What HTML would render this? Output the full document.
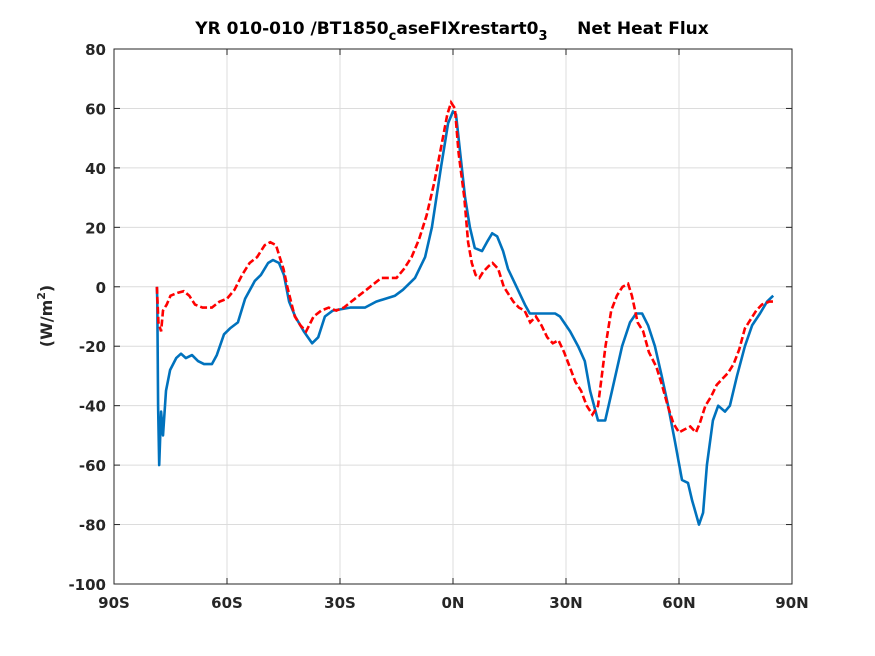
<!DOCTYPE html>
<html><head><meta charset="utf-8"><style>
body{margin:0;background:#fff}
svg{display:block;font-family:"DejaVu Sans","Liberation Sans",sans-serif}
</style></head><body>
<svg id="chart" width="875" height="656" viewBox="0 0 875 656">
<rect width="875" height="656" fill="#fff"/>
<rect x="114" y="49" width="678" height="535" fill="#fff"/>
<g id="grid"></g>
<g id="series"></g>
<rect x="114" y="49" width="678" height="535" fill="none" stroke="#262626" stroke-width="1"/>
<g id="ticks"></g>
<text x="452" y="34" text-anchor="middle" font-size="17" font-weight="bold" fill="#000">YR 010-010 /BT1850<tspan font-size="13" dy="6">c</tspan><tspan dy="-6">aseFIXrestart0</tspan><tspan font-size="13" dy="6">3</tspan><tspan dy="-6" xml:space="preserve">     Net Heat Flux</tspan></text>
<text transform="translate(52,316) rotate(-90)" text-anchor="middle" font-size="16" font-weight="bold" fill="#262626">(W/m<tspan font-size="11" dy="-7">2</tspan><tspan dy="7">)</tspan></text>
</svg>
<script>
const xTicks=[-90,-60,-30,0,30,60,90];
const xTickLabels=["90S","60S","30S","0N","30N","60N","90N"];
const yTicks=[-100,-80,-60,-40,-20,0,20,40,60,80];
const blueLat=[-78.6,-78.5,-78.3,-78.0,-77.5,-77.0,-76.2,-75.1,-73.5,-72.2,-70.9,-69.3,-67.7,-66.1,-64,-62.7,-60.8,-59.2,-57.1,-55.2,-52.6,-51,-49.1,-47.8,-46.2,-44.9,-43.5,-41.9,-39.6,-37.4,-35.8,-34,-31.9,-27.3,-23.4,-20.4,-15.4,-13.3,-10.1,-7.4,-5.6,-3.2,-1.3,0,0.8,1.9,3.2,4.5,5.8,7.7,9,10.4,11.7,13.3,14.6,16.5,19.1,20.4,24.4,27.1,28.4,31.1,33.2,35,36.4,38.5,40.4,42.2,44.9,47,48.6,50.2,51.8,53.6,55.4,57.1,58.9,60.8,62.4,63.5,64.2,65.3,66.4,67.4,69,70.4,72.2,73.5,75.4,77.5,79.4,81.5,83.4,85];
const blueVal=[0,-5,-40,-60,-42,-50,-35,-28,-24,-22.5,-24,-23,-25,-26,-26,-23,-16,-14,-12,-4,2,4,8,9,8,4,-5,-10,-15,-19,-17,-10,-8,-7,-7,-5,-3,-1,3,10,20,40,55,59,58,45,30,20,13,12,15,18,17,12,6,1,-6,-9,-9,-9,-10,-15,-20,-25,-35,-45,-45,-35,-20,-12,-9,-9,-13,-20,-30,-40,-52,-65,-66,-72,-75,-80,-76,-60,-45,-40,-42,-40,-30,-20,-13,-9,-5,-3];
const redLat=[-78.6,-78.2,-77.5,-77,-76,-75,-73,-71.5,-70,-68.5,-66.5,-64,-62,-60,-58,-56,-54,-52,-50,-48.5,-47,-46,-45,-44,-43,-42,-40.5,-39,-37,-35,-33,-31,-29,-27,-25,-23,-21,-19,-17,-15,-13,-11,-9,-7,-5,-3,-1.5,-0.5,0.5,1.5,3,4,5,6,7,8,9.5,10.5,12,13.5,15,16,17.5,19,20.5,22,23.5,25,26.5,28,29.5,31,32.5,34,35.5,37,38.5,39.5,40.5,42,43.5,45,46.5,47.5,49,50.5,52,54,55.5,57,58.5,60,61.5,63,64.5,65.5,67,68.5,70,71.5,73,74.5,76,77.5,79,80.5,82,84,85];
const redVal=[0,-12,-15,-8,-6,-3,-2,-1.5,-3,-6,-7,-7,-5,-4,-1,4,8,10,14,15,14,10,6,0,-5,-10,-13,-15,-10,-8,-7,-8,-7,-5,-3,-1,1,3,3,3,6,10,16,24,35,48,58,62,60,45,30,15,8,4,3,5,7,8,6,0,-3,-5,-7,-8,-12,-10,-13,-17,-19,-18,-22,-27,-32,-35,-40,-43,-40,-30,-20,-8,-3,0,1,-3,-12,-15,-22,-27,-33,-40,-46,-49,-48,-47,-49,-46,-40,-37,-33,-31,-29,-26,-21,-14,-11,-8,-6,-5,-5];
const NS="http://www.w3.org/2000/svg";
const X0=114,X1=792,Y0=584,Y1=49;
const xs=v=>X0+(v+90)/180*(X1-X0);
const ys=v=>Y0-(v+100)/180*(Y0-Y1);
const grid=document.getElementById('grid'),ticks=document.getElementById('ticks'),ser=document.getElementById('series');
function mk(tag,attrs,parent){const e=document.createElementNS(NS,tag);for(const k in attrs)e.setAttribute(k,attrs[k]);parent.appendChild(e);return e;}
xTicks.forEach((t,i)=>{
  const x=xs(t);
  const g=mk('line',{x1:x,x2:x,y1:Y1,y2:Y0,stroke:'#dcdcdc','stroke-width':1},grid);
  
  
  mk('line',{x1:x,x2:x,y1:Y0,y2:Y0-6,stroke:'#262626'},ticks);
  mk('line',{x1:x,x2:x,y1:Y1,y2:Y1+6,stroke:'#262626'},ticks);
  const tx=mk('text',{x:x,y:Y0+24,'text-anchor':'middle','font-size':15,'font-weight':'bold',fill:'#262626'},ticks);
  tx.textContent=xTickLabels[i];
  
  
});
yTicks.forEach(t=>{
  const y=ys(t);
  const g=mk('line',{x1:X0,x2:X1,y1:y,y2:y,stroke:'#dcdcdc','stroke-width':1},grid);
  
  
  mk('line',{x1:X0,x2:X0+6,y1:y,y2:y,stroke:'#262626'},ticks);
  mk('line',{x1:X1,x2:X1-6,y1:y,y2:y,stroke:'#262626'},ticks);
  const tx=mk('text',{x:X0-8,y:y+6,'text-anchor':'end','font-size':15,'font-weight':'bold',fill:'#262626'},ticks);
  tx.textContent=String(t);
  
  
});
function pts(la,va){return la.map((l,i)=>xs(l).toFixed(1)+','+ys(va[i]).toFixed(1)).join(' ');}
const b=mk('polyline',{points:pts(blueLat,blueVal),fill:'none',stroke:'#0072bd','stroke-width':2.6,'stroke-linejoin':'round'},ser);


const r=mk('polyline',{points:pts(redLat,redVal),fill:'none',stroke:'#ff0000','stroke-width':2.6,'stroke-dasharray':'7 3'},ser);


</script>
</body></html>
